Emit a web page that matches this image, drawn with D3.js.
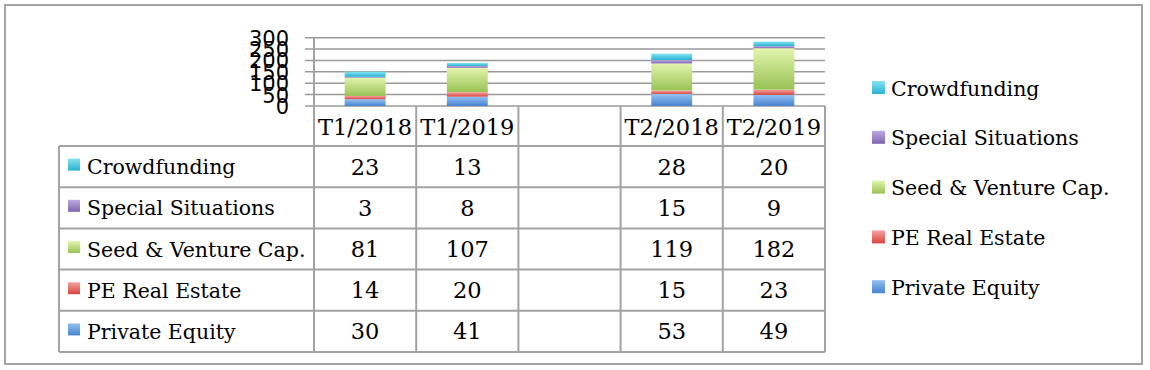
<!DOCTYPE html>
<html>
<head>
<meta charset="utf-8">
<script src="https://cdn.jsdelivr.net/npm/d3@7"></script>
<style>
  html, body { margin: 0; padding: 0; background: #fff; }
  svg { display: block; }
</style>
</head>
<body>
<svg id="chart" width="1150" height="370"></svg>
<script>
// ---- data ----
const categories = ["T1/2018", "T1/2019", "", "T2/2018", "T2/2019"];
const seriesNames = ["Private Equity", "PE Real Estate", "Seed & Venture Cap.", "Special Situations", "Crowdfunding"];
const privateEquity = [30, 41, null, 53, 49];
const peRealEstate = [14, 20, null, 15, 23];
const seedVenture = [81, 107, null, 119, 182];
const specialSituations = [3, 8, null, 15, 9];
const crowdfunding = [23, 13, null, 28, 20];
const yTicks = [0, 50, 100, 150, 200, 250, 300];

const seriesValues = [privateEquity, peRealEstate, seedVenture, specialSituations, crowdfunding];
const gradStops = [
  ["#93c0f0", "#4683d0"],
  ["#f5a3a1", "#d9453f"],
  ["#e3f5ad", "#98c255"],
  ["#bcaadf", "#8063b2"],
  ["#86e3f2", "#27b2d1"]
];

const svg = d3.select("#chart");
const defs = svg.append("defs");
gradStops.forEach((s, i) => {
  const g = defs.append("linearGradient").attr("id", "g" + i)
    .attr("x1", 0).attr("y1", 0).attr("x2", 0).attr("y2", 1);
  g.append("stop").attr("offset", "0%").attr("stop-color", s[0]);
  g.append("stop").attr("offset", "100%").attr("stop-color", s[1]);
});

const serif = "'DejaVu Serif', serif";
const fsLabel = 20.5;
const fsNum = 22.5;

// outer frame
svg.append("rect").attr("x", 5).attr("y", 5).attr("width", 1137).attr("height", 359)
  .attr("fill", "#fff").attr("stroke", "#a3a3a3").attr("stroke-width", 2);

const x = d3.scaleBand().domain(d3.range(categories.length)).range([314, 825]).padding(0);
const y = d3.scaleLinear().domain([0, 300]).range([106, 37.7]);

// gridlines
svg.append("g").selectAll("line").data(yTicks).join("line")
  .attr("x1", 305).attr("x2", 825)
  .attr("y1", d => y(d)).attr("y2", d => y(d))
  .attr("stroke", "#9a9a9a").attr("stroke-width", 1.5);

// y axis labels
svg.append("g").selectAll("text").data(yTicks).join("text")
  .attr("x", 289).attr("y", d => y(d) + 8)
  .attr("text-anchor", "end")
  .attr("font-family", "'DejaVu Sans', sans-serif").attr("font-size", 21)
  .attr("fill", "#000")
  .text(d => d);

// stacked bars
const rows = categories.map((c, i) => {
  const o = { i: i };
  seriesNames.forEach((s, k) => o[s] = seriesValues[k][i]);
  return o;
});
const stack = d3.stack().keys(seriesNames).value((d, k) => d[k] == null ? 0 : d[k]);
const stacked = stack(rows);
const barW = x.bandwidth() * 0.4;
const barG = svg.append("g");
stacked.forEach((layer, k) => {
  barG.append("g").selectAll("rect")
    .data(layer.filter(d => d.data[seriesNames[k]] != null))
    .join("rect")
    .attr("x", d => x(d.data.i) + (x.bandwidth() - barW) / 2)
    .attr("width", barW)
    .attr("y", d => y(d[1]))
    .attr("height", d => y(d[0]) - y(d[1]))
    .attr("fill", "url(#g" + k + ")");
});

// table
const rowTop = 146, rowH = 41.2, labelX = 59;
const tableOrder = [4, 3, 2, 1, 0]; // Crowdfunding first
const lineColor = "#a3a3a3";
const tg = svg.append("g");
d3.range(tableOrder.length + 1).forEach(r => {
  tg.append("line").attr("x1", labelX).attr("x2", 825)
    .attr("y1", rowTop + r * rowH).attr("y2", rowTop + r * rowH)
    .attr("stroke", lineColor).attr("stroke-width", 2);
});
tg.append("line").attr("x1", labelX).attr("x2", labelX)
  .attr("y1", rowTop).attr("y2", rowTop + tableOrder.length * rowH)
  .attr("stroke", lineColor).attr("stroke-width", 2);
d3.range(categories.length + 1).forEach(c => {
  const xx = c < categories.length ? x(c) : x(categories.length - 1) + x.bandwidth();
  tg.append("line").attr("x1", xx).attr("x2", xx)
    .attr("y1", c === 0 ? y(300) : 106).attr("y2", rowTop + tableOrder.length * rowH)
    .attr("stroke", lineColor).attr("stroke-width", 2);
});
tg.selectAll("text.cat").data(categories).join("text").attr("class", "cat")
  .attr("x", (d, i) => x(i) + x.bandwidth() / 2).attr("y", 135)
  .attr("text-anchor", "middle").attr("font-family", serif).attr("font-size", fsNum)
  .text(d => d);
tableOrder.forEach((k, r) => {
  const cy = rowTop + r * rowH + rowH / 2;
  tg.append("rect").attr("x", 68).attr("y", cy - 8).attr("width", 12).attr("height", 12)
    .attr("fill", "url(#g" + k + ")");
  tg.append("text").attr("x", 87).attr("y", cy + 7.5)
    .attr("font-family", serif).attr("font-size", fsLabel).text(seriesNames[k]);
  seriesValues[k].forEach((v, i) => {
    if (v == null) return;
    tg.append("text").attr("x", x(i) + x.bandwidth() / 2).attr("y", cy + 8)
      .attr("text-anchor", "middle").attr("font-family", serif).attr("font-size", fsNum)
      .text(v);
  });
});

// legend
const lg = svg.append("g");
tableOrder.forEach((k, r) => {
  const cy = 88 + r * 49.8;
  lg.append("rect").attr("x", 872).attr("y", cy - 7).attr("width", 13).attr("height", 13)
    .attr("fill", "url(#g" + k + ")");
  lg.append("text").attr("x", 891).attr("y", cy + 7.5)
    .attr("font-family", serif).attr("font-size", fsLabel).text(seriesNames[k]);
});
</script>
</body>
</html>
